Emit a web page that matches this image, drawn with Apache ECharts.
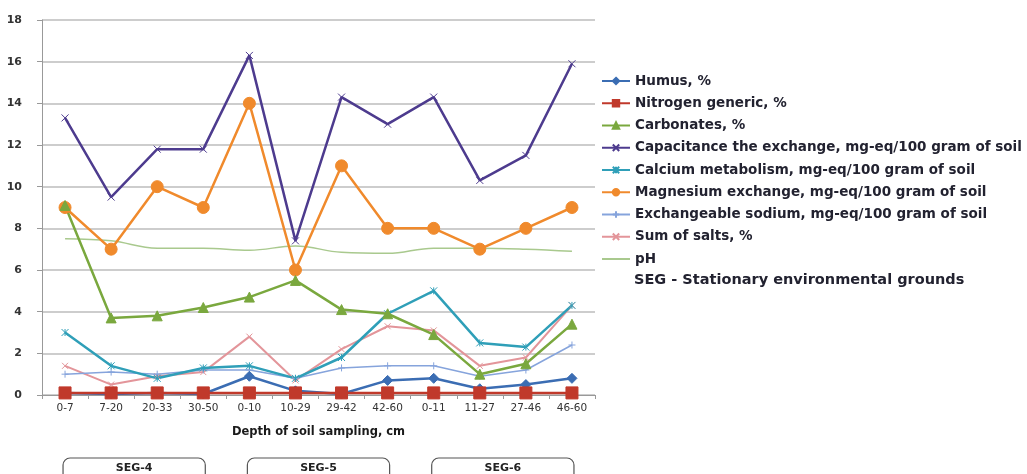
<!DOCTYPE html>
<html>
<head>
<meta charset="utf-8">
<script src="https://cdn.jsdelivr.net/npm/echarts@6/dist/echarts.min.js"></script>
<style>html,body{margin:0;padding:0;background:#fff}#c{width:1027px;height:474px}</style>
</head>
<body>
<div id="c"></div>
<script>
var categories = ['0-7','7-20','20-33','30-50','0-10','10-29','29-42','42-60','0-11','11-27','27-46','46-60'];
var yTicks = [0, 2, 4, 6, 8, 10, 12, 14, 16, 18];
var humus = [0.1, 0.05, 0.1, 0.05, 0.9, 0.2, 0.05, 0.7, 0.8, 0.3, 0.5, 0.8];
var nitrogen = [0.1, 0.1, 0.1, 0.1, 0.1, 0.1, 0.1, 0.1, 0.1, 0.1, 0.1, 0.1];
var carbonates = [9.1, 3.7, 3.8, 4.2, 4.7, 5.5, 4.1, 3.9, 2.9, 1.0, 1.5, 3.4];
var capacitance = [13.3, 9.5, 11.8, 11.8, 16.3, 7.4, 14.3, 13.0, 14.3, 10.3, 11.5, 15.9];
var calcium = [3.0, 1.4, 0.8, 1.3, 1.4, 0.8, 1.8, 3.9, 5.0, 2.5, 2.3, 4.3];
var magnesium = [9, 7, 10, 9, 14, 6, 11, 8, 8, 7, 8, 9];
var sodium = [1.0, 1.1, 1.0, 1.2, 1.2, 0.8, 1.3, 1.4, 1.4, 0.9, 1.2, 2.4];
var salts = [1.4, 0.5, 0.9, 1.1, 2.8, 0.7, 2.2, 3.3, 3.1, 1.4, 1.8, 4.3];
var ph = [7.5, 7.4, 7.05, 7.05, 6.95, 7.15, 6.85, 6.8, 7.05, 7.05, 7.0, 6.9];
var segNames = ['SEG-4', 'SEG-5', 'SEG-6'];
var segRanges = [[0, 3], [4, 7], [8, 11]];

var names = ['Humus, %','Nitrogen generic, %','Carbonates, %','Capacitance the exchange, mg-eq/100 gram of soil','Calcium metabolism, mg-eq/100 gram of soil','Magnesium exchange, mg-eq/100 gram of soil','Exchangeable sodium, mg-eq/100 gram of soil','Sum of salts, %','pH'];
var segNote = 'SEG - Stationary environmental grounds';

var X = 'path://M0,0L10,10M10,0L0,10';
var PLUS = 'path://M5,0L5,10M0,5L10,5';
var STAR = 'path://M0,0L10,10M10,0L0,10M5,0L5,10';

function mk(name, data, color, width, symbol, size, extra) {
  var s = {
    name: name, type: 'line', data: data,
    symbol: symbol, symbolSize: size, showSymbol: symbol !== 'none',
    lineStyle: { color: color, width: width },
    itemStyle: { color: color, borderColor: color, borderWidth: 1 },
    emphasis: { disabled: true }, animation: false
  };
  if (extra) for (var k in extra) s[k] = extra[k];
  return s;
}

var chart = echarts.init(document.getElementById('c'), null, { renderer: 'canvas' });
var LFONT = 'DejaVu Sans';
var TC = '#222230';
var legendData = names.map(function (n) {
  return n === 'pH' ? { name: n, itemStyle: { opacity: 0 } } : { name: n };
});
var option = {
  backgroundColor: '#fff',
  animation: false,
  grid: { left: 42, right: 432, top: 20, bottom: 79 },
  legend: {
    orient: 'vertical', left: 596, top: 69,
    itemWidth: 28, itemHeight: 8, itemGap: 8.25,
    data: legendData,
    textStyle: { fontFamily: LFONT, fontSize: 13.5, fontWeight: 'bold', color: TC, lineHeight: 14 }
  },
  xAxis: {
    type: 'category', data: categories, boundaryGap: true,
    name: 'Depth of soil sampling, cm', nameLocation: 'middle', nameGap: 31,
    nameTextStyle: { fontFamily: LFONT, fontSize: 11.5, fontWeight: 'bold', color: '#1a1a1a' },
    axisLine: { lineStyle: { color: '#999', width: 1 } },
    axisTick: { show: true, length: 4, lineStyle: { color: '#999' } },
    axisLabel: { fontFamily: LFONT, fontSize: 10.5, color: '#333', margin: 8 }
  },
  yAxis: {
    type: 'value', min: yTicks[0], max: yTicks[yTicks.length - 1], interval: 2,
    axisLine: { show: true, lineStyle: { color: '#999' } },
    axisTick: { show: true, length: 5, lineStyle: { color: '#999' } },
    axisLabel: { fontFamily: LFONT, fontSize: 11, fontWeight: 'bold', color: '#333', margin: 20 },
    splitLine: { lineStyle: { color: '#bdbdbd', width: 1.5 } }
  },
  series: [
    mk(names[8], ph, '#a9c98e', 1.5, 'none', 0, { smooth: 0.4 }),
    mk(names[7], salts, '#e3959a', 2, X, 6),
    mk(names[6], sodium, '#86a4dc', 1.5, PLUS, 7),
    mk(names[4], calcium, '#2f9fb8', 2.5, STAR, 7),
    mk(names[3], capacitance, '#4d3b8e', 2.5, X, 7),
    mk(names[5], magnesium, '#f08a2c', 2.5, 'circle', 12),
    mk(names[2], carbonates, '#7aa83e', 2.5, 'triangle', 10),
    mk(names[0], humus, '#3b6db3', 2.5, 'diamond', 10),
    mk(names[1], nitrogen, '#c0392b', 2.5, 'rect', 12)
  ]
};
chart.setOption(option);

// SEG brackets below the axis, positioned from the category scale
var gfx = [];
var yTop = 458;
segRanges.forEach(function (r, i) {
  var x0 = chart.convertToPixel({ xAxisIndex: 0 }, r[0]) - 2;
  var x1 = chart.convertToPixel({ xAxisIndex: 0 }, r[1]) + 2;
  gfx.push({
    type: 'rect', silent: true,
    shape: { x: x0, y: yTop, width: x1 - x0, height: 40, r: [7, 7, 0, 0] },
    style: { fill: 'none', stroke: '#555', lineWidth: 1.2 }
  });
  gfx.push({
    type: 'text', silent: true, x: (x0 + x1) / 2, y: 468,
    style: { text: segNames[i], font: 'bold 11px "DejaVu Sans"', fill: '#222', align: 'center', verticalAlign: 'middle' }
  });
});
gfx.push({
  type: 'text', silent: true, x: 634, y: 280,
  style: { text: segNote, font: 'bold 14.5px "DejaVu Sans"', fill: TC, verticalAlign: 'middle' }
});
chart.setOption({ graphic: gfx });
</script>
</body>
</html>
